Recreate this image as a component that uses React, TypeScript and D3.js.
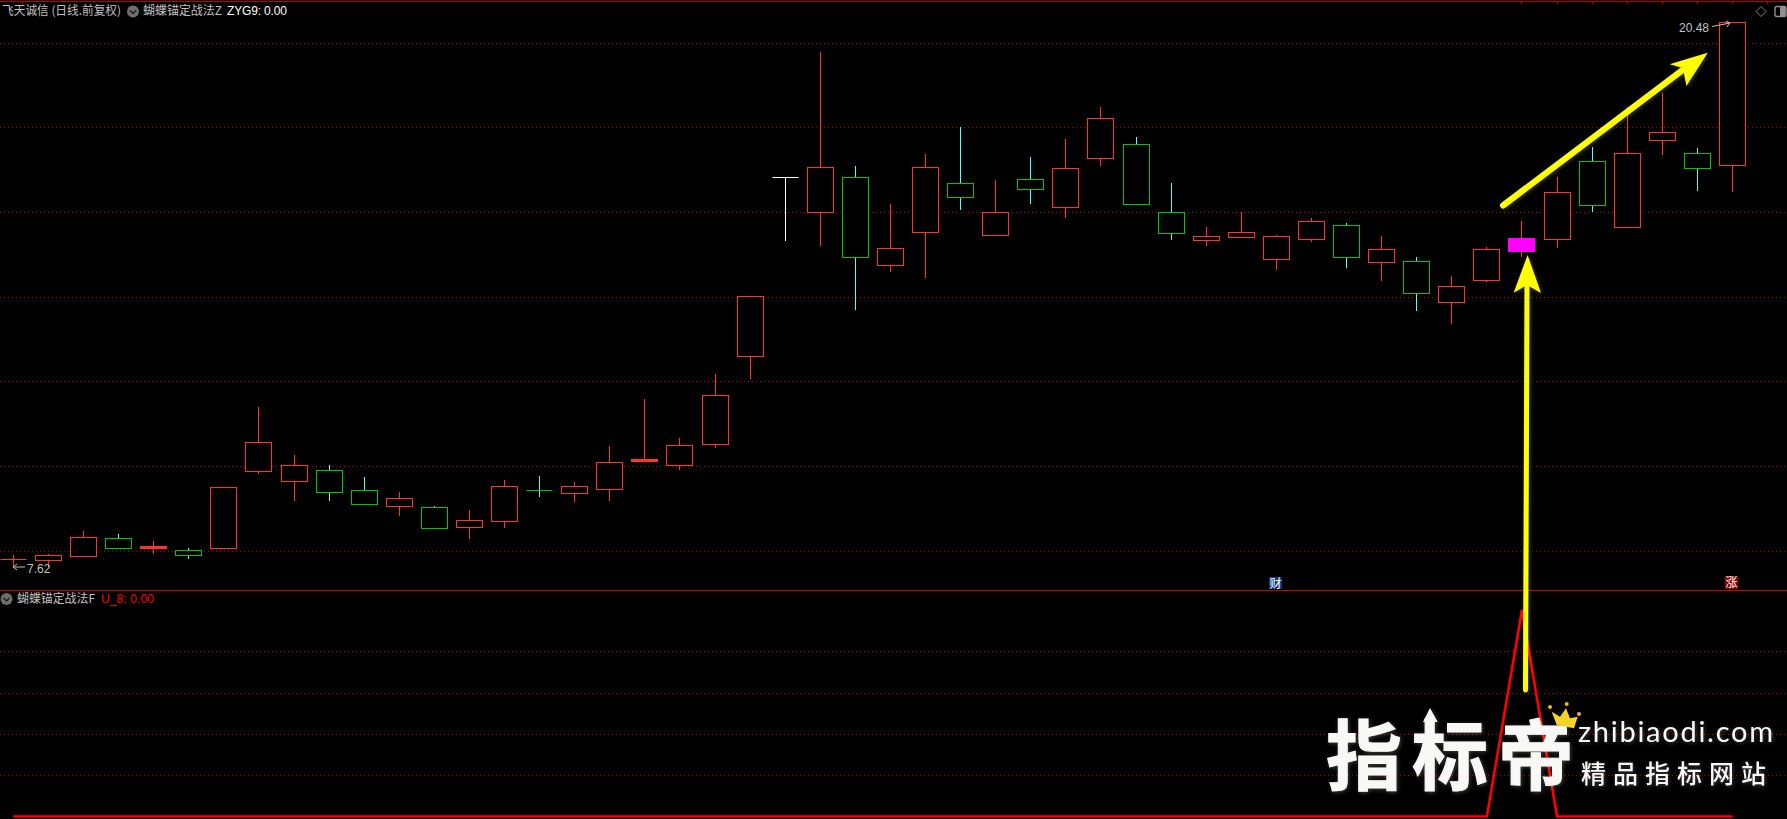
import React, { useEffect } from "react";
import * as d3 from "d3";

const WIDTH = 1787;
const HEIGHT = 819;

const kinds = "r r r g r g r r r g g r g r r g r r r r r r w r g r r g r g r r g g r r r r g r g r r m r g r r g r".split(" ");
const opens = [7.8, 7.79, 7.89, 8.3, 8.08, 8.01, 8.08, 9.89, 9.66, 9.9, 9.43, 9.07, 9.03, 8.57, 8.71, 9.43, 9.37, 9.47, 10.12, 10.02, 10.53, 12.59, 16.83, 16.01, 16.83, 14.76, 15.54, 16.68, 15.47, 16.77, 16.13, 17.28, 17.6, 15.99, 15.35, 15.4, 14.9, 15.37, 15.69, 14.83, 14.84, 13.88, 14.4, 15.08, 15.37, 17.2, 15.65, 17.69, 17.39, 17.1];
const closes = [7.8, 7.9, 8.32, 8.08, 8.12, 7.91, 9.5, 10.56, 10.02, 9.4, 9.11, 9.24, 8.55, 8.72, 9.53, 9.43, 9.53, 10.09, 10.17, 10.49, 11.67, 14.01, 16.83, 17.06, 14.95, 15.14, 17.06, 16.36, 15.99, 16.55, 17.03, 18.21, 16.2, 15.51, 15.43, 15.52, 15.43, 15.78, 14.95, 15.12, 14.1, 14.25, 15.12, 15.39, 16.47, 16.17, 17.39, 17.88, 17.05, 20.48];
const highs = [7.9, 7.93, 8.47, 8.4, 8.23, 8.07, 9.5, 11.4, 10.26, 10.03, 9.74, 9.39, 9.06, 8.97, 9.67, 9.77, 9.63, 10.48, 11.59, 10.67, 12.18, 14.01, 16.83, 19.78, 17.09, 16.19, 17.37, 18.01, 16.76, 17.3, 17.73, 18.48, 17.77, 16.69, 15.65, 15.99, 15.46, 15.86, 15.74, 15.44, 14.94, 14.49, 15.18, 15.79, 16.83, 17.54, 18.48, 18.81, 17.51, 20.48];
const lows = [7.62, 7.65, 7.89, 8.08, 7.95, 7.84, 8.08, 9.84, 9.2, 9.2, 9.11, 8.85, 8.55, 8.31, 8.56, 9.3, 9.18, 9.2, 10.12, 9.93, 10.46, 12.08, 15.34, 15.22, 13.71, 14.61, 14.47, 16.07, 15.47, 16.21, 15.88, 17.11, 16.2, 15.36, 15.22, 15.4, 14.66, 15.32, 14.7, 14.4, 13.69, 13.38, 14.37, 14.96, 15.18, 16.03, 15.65, 17.37, 16.52, 16.5];
const signal = [0, 0, 0, 0, 0, 0, 0, 0, 0, 0, 0, 0, 0, 0, 0, 0, 0, 0, 0, 0, 0, 0, 0, 0, 0, 0, 0, 0, 0, 0, 0, 0, 0, 0, 0, 0, 0, 0, 0, 0, 0, 0, 0, 1, 0, 0, 0, 0, 0, 0];

const priceTicks = [7.99, 10, 12, 13.99, 16, 18, 20];
const signalTicks = [0.2, 0.4, 0.6, 0.8];
const topTicks = [0.25, 43, 44, 45, 46, 47, 48, 49, 50];

const RED = "#ff3232";
const GREEN = "#00c800";
const CYAN = "#54fcfc";
const GRID = "#b00000";
const TEXT = "#c0c0c0";
const SANS = "'Noto Sans CJK SC', 'Liberation Sans', sans-serif";
const LATIN = "'Liberation Sans', sans-serif";

const x = d3.scaleLinear().domain([0, 49]).range([13.4, 1732.5]);
const y = d3.scaleLinear().domain([7.62, 20.48]).range([567, 22.3]);
const y2 = d3.scaleLinear().domain([0, 1]).range([816.5, 610]);
const snap = (v: number) => Math.round(v) + 0.5;
const snapX = (v: number) => Math.floor(v) + 0.5;

const signalLine = d3.line<number>().x((_, i) => x(i)).y((d) => y2(d));

function Chevron({ cx, cy }: { cx: number; cy: number }) {
  return (
    <g>
      <circle cx={cx} cy={cy} r={6} fill="#6e6e6e" />
      <path d={`M${cx - 3} ${cy - 1}L${cx} ${cy + 2}L${cx + 3} ${cy - 1}`} fill="none" stroke="#151515" strokeWidth={1.2} />
    </g>
  );
}

function Candle({ i }: { i: number }) {
  const kind = kinds[i];
  const cx = snapX(x(i));
  const top = snap(y(Math.max(opens[i], closes[i])));
  const bottom = snap(y(Math.min(opens[i], closes[i])));
  const hi = snap(y(highs[i]));
  const lo = snap(y(lows[i]));
  const left = snapX(x(i) - 13);
  const bodyColor = kind === "r" ? RED : kind === "g" ? GREEN : kind === "w" ? "#ffffff" : "#ff00ff";
  const wickColor = kind === "r" ? RED : kind === "g" ? CYAN : kind === "w" ? "#ffffff" : RED;
  const fill = kind === "m" || bottom - top <= 2 ? bodyColor : "#000000";
  return (
    <g>
      {hi < top && <line x1={cx} x2={cx} y1={hi - 0.5} y2={top} stroke={wickColor} />}
      {lo > bottom && <line x1={cx} x2={cx} y1={bottom} y2={lo + 0.5} stroke={wickColor} />}
      {bottom === top ? (
        <line x1={left} x2={left + 26} y1={top} y2={top} stroke={bodyColor} />
      ) : (
        <rect x={left} y={top} width={26} height={bottom - top} fill={fill} stroke={bodyColor} />
      )}
    </g>
  );
}

export default function App() {
  useEffect(() => {
    document.body.style.margin = "0";
    document.body.style.background = "#000";
  }, []);

  return (
    <svg width={WIDTH} height={HEIGHT} viewBox={`0 0 ${WIDTH} ${HEIGHT}`} style={{ display: "block", background: "#000" }}>
      <defs>
        <filter id="glow" x="-20%" y="-20%" width="140%" height="140%">
          <feDropShadow dx="1" dy="1" stdDeviation="2" floodColor="#ffffff" floodOpacity="0.25" />
        </filter>
      </defs>

      {/* frame */}
      <line x1={0} x2={WIDTH} y1={1.5} y2={1.5} stroke="#c00000" />
      <line x1={0} x2={WIDTH} y1={590.5} y2={590.5} stroke="#c80000" />
      {topTicks.map((t) => (
        <line key={t} x1={snapX(x(t))} x2={snapX(x(t))} y1={1} y2={4} stroke="#c00000" />
      ))}

      {/* dotted grids */}
      {priceTicks.map((t) => (
        <line key={t} x1={0} x2={WIDTH} y1={snap(y(t))} y2={snap(y(t))} stroke={GRID} strokeDasharray="1 3" />
      ))}
      {signalTicks.map((t) => (
        <line key={t} x1={0} x2={WIDTH} y1={snap(y2(t))} y2={snap(y2(t))} stroke={GRID} strokeDasharray="1 3" />
      ))}

      {/* candles */}
      {kinds.map((_, i) => (
        <Candle key={i} i={i} />
      ))}

      {/* lower panel line */}
      <path d={signalLine(signal) ?? ""} fill="none" stroke="#ff0000" strokeWidth={2.6} />

      {/* legends */}
      <g fontFamily={SANS} fontSize={12} fill={TEXT}>
        <text x={2} y={15} textLength={119} lengthAdjust="spacingAndGlyphs">飞天诚信 (日线.前复权)</text>
        <text x={143} y={15} textLength={79} lengthAdjust="spacingAndGlyphs">蝴蝶锚定战法Z</text>
        <text x={17} y={603} textLength={78} lengthAdjust="spacingAndGlyphs">蝴蝶锚定战法F</text>
      </g>
      <Chevron cx={133} cy={11.5} />
      <Chevron cx={6.5} cy={599} />
      <text x={227} y={15} fontFamily={LATIN} fontSize={12} fill="#ffffff" textLength={60}>ZYG9: 0.00</text>
      <text x={101} y={603} fontFamily={LATIN} fontSize={12} fill="#ff0000" textLength={53}>U_8: 0.00</text>

      {/* high / low labels */}
      <text x={1679} y={32} fontFamily={LATIN} fontSize={12} fill={TEXT}>20.48</text>
      <path d="M1712 26.5L1730 23M1726 21L1730 23L1727 27" fill="none" stroke={TEXT} />
      <text x={27} y={573} fontFamily={LATIN} fontSize={12} fill={TEXT}>7.62</text>
      <path d="M25 567H13M17 564L13 567L17 570" fill="none" stroke={TEXT} />

      {/* top-right icons */}
      <path d="M1761 6.5L1766 11.5L1761 16.5L1756 11.5Z" fill="none" stroke="#808080" />
      <rect x={1775} y={6.5} width={11} height={10} rx={2} fill="none" stroke="#909090" strokeWidth={1.4} />
      <rect x={1780} y={7} width={5.5} height={9} fill="#909090" />

      {/* event badges */}
      <rect x={1269} y={577} width={13} height={12} fill="#0b3a78" />
      <text x={1269.5} y={587.5} fontFamily={SANS} fontSize={12} fill="#ffffff">财</text>
      <rect x={1725} y={576} width={13} height={13} fill="#8c0000" />
      <text x={1725.5} y={587} fontFamily={SANS} fontSize={12} fill="#ffffff">涨</text>

      {/* yellow arrows */}
      <g filter="url(#glow)">
        <line x1={1525.5} y1={690} x2={1527} y2={284} stroke="#ffff00" strokeWidth={5} strokeLinecap="round" />
        <path d="M1527.6 255L1541 293L1527 285L1513.7 292.7Z" fill="#ffff00" />
        <line x1={1503} y1={205.5} x2={1684} y2={69} stroke="#ffff00" strokeWidth={6} strokeLinecap="round" />
        <path d="M1707.7 52.7L1669.7 64.3L1683 68L1686.4 86Z" fill="#ffff00" />
      </g>

      {/* watermark */}
      <g filter="url(#glow)" fill="#f8f9f6">
        <g fontFamily={SANS} fontWeight={700} fontSize={76} stroke="#f8f9f6" strokeWidth={1} textAnchor="middle">
          <text x={1364} y={784}>指</text>
          <text x={1450} y={784}>标</text>
          <text x={1536} y={784}>帝</text>
        </g>
        <path d="M1430 708L1437.7 722H1433V735H1427V722H1423Z" />
        <text x={1578} y={742} fontFamily="Lato, 'Open Sans', sans-serif" fontSize={29} textLength={195} lengthAdjust="spacing">zhibiaodi.com</text>
        <text x={1581} y={783} fontFamily={SANS} fontWeight={500} fontSize={25} letterSpacing={7}>精品指标网站</text>
      </g>
      <path d="M1551.7 711.7L1560 716.7L1566 708.3L1570 718.3L1577.7 716.7L1574 728.3L1556.7 725Z" fill="#f5d32a" />
      <circle cx={1550} cy={707} r={2} fill="#e8b830" />
      <circle cx={1566.7} cy={704} r={2} fill="#e8b830" />
      <circle cx={1579} cy={714} r={2} fill="#e8b830" />
    </svg>
  );
}
